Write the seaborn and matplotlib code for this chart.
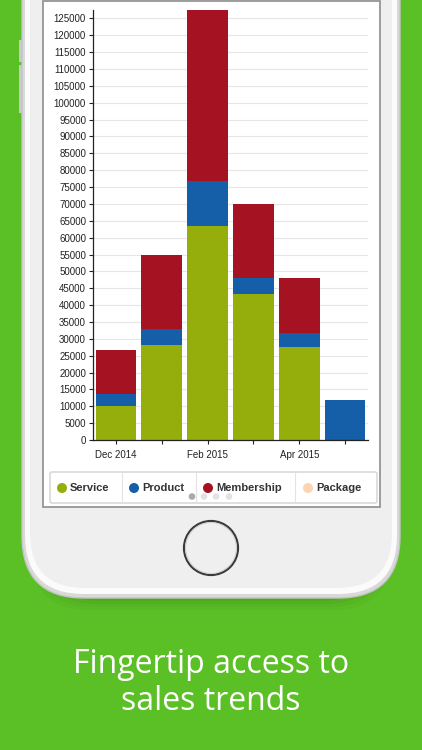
import numpy as np
import pandas as pd
import matplotlib
matplotlib.use("Agg")
import matplotlib.pyplot as plt
import seaborn as sns
from matplotlib.patches import FancyBboxPatch, Rectangle, Circle

# Monthly sales by category
months = ["Dec 2014", "Jan 2015", "Feb 2015", "Mar 2015", "Apr 2015", "May 2015"]
service = [10200, 28100, 63500, 43300, 27700, 0]
product = [3500, 4900, 13300, 4700, 3900, 12000]
membership = [13000, 22000, 50700, 22000, 16400, 0]
package = [0, 0, 0, 0, 0, 0]

series_names = ["Service", "Product", "Membership", "Package"]
series_colors = ["#95ae0c", "#145fa7", "#a51323", "#fbd4b1"]

y_ticks = list(range(0, 130000, 5000))
shown_months = ["Dec 2014", "Feb 2015", "Apr 2015"]

df = pd.DataFrame({"month": months, "Service": service, "Product": product,
                   "Membership": membership, "Package": package})
df["lvl1"] = df["Service"]
df["lvl2"] = df["lvl1"] + df["Product"]
df["lvl3"] = df["lvl2"] + df["Membership"]
df["lvl4"] = df["lvl3"] + df["Package"]

sns.set_theme(style="white")
plt.rcParams["font.family"] = ["Liberation Sans", "DejaVu Sans"]

W, H = 422, 750
fig = plt.figure(figsize=(W / 100, H / 100), dpi=100)
green = "#5bbf26"
fig.patch.set_facecolor(green)

# background axes in pixel coordinates (phone frame)
bg = fig.add_axes([0, 0, 1, 1], zorder=0)
bg.set_xlim(0, W)
bg.set_ylim(H, 0)
bg.axis("off")
bg.set_facecolor(green)

# shadow under the phone
for i, a in enumerate([0.05, 0.06, 0.08, 0.1]):
    bg.add_patch(FancyBboxPatch((30 + i * 4, -80), 362 - i * 8, 690 - i * 3,
                                boxstyle="round,pad=0,rounding_size=60",
                                fc="#2f6e12", ec="none", alpha=a))
# side buttons
bg.add_patch(Rectangle((19, 40), 4, 22, fc="#c9c9c9", ec="none"))
bg.add_patch(Rectangle((19, 65), 4, 48, fc="#c9c9c9", ec="none"))
# phone body
bg.add_patch(FancyBboxPatch((22, -80), 378, 678,
                            boxstyle="round,pad=0,rounding_size=62",
                            fc="#d9d9d9", ec="#c4c4c4", lw=1))
bg.add_patch(FancyBboxPatch((25, -80), 372, 674,
                            boxstyle="round,pad=0,rounding_size=59",
                            fc="#fbfbfb", ec="none"))
bg.add_patch(FancyBboxPatch((30, -80), 362, 668,
                            boxstyle="round,pad=0,rounding_size=55",
                            fc="#efefef", ec="none"))
# screen
bg.add_patch(Rectangle((43, 1), 337, 506, fc="white", ec="#8d8d8d", lw=1.2))
# home button
bg.add_patch(Circle((211, 548), 27, fc="#efefef", ec="#3a3a3a", lw=1.6))
bg.add_patch(Circle((211, 548), 25.5, fc="#efefef", ec="#cfcfcf", lw=0.8))

# legend strip
bg.add_patch(FancyBboxPatch((50, 472), 327, 31, boxstyle="round,pad=0,rounding_size=2",
                            fc="white", ec="#d2d2d2", lw=1))
for xd in [122, 196, 295]:
    bg.plot([xd, xd], [473, 502], color="#e3e3e3", lw=0.8)
leg_x = [62, 134, 208, 308]
for name, col, lx in zip(series_names, series_colors, leg_x):
    bg.add_patch(Circle((lx, 488), 5, fc=col, ec="none"))
    bg.text(lx + 8, 488, name, fontsize=8, fontweight="bold", color="#333333",
            va="center", ha="left")
for i, dx in enumerate([192, 204, 216, 229]):
    bg.add_patch(Circle((dx, 496.5), 3.3, fc="#aaaaaa" if i == 0 else "#e2e2e2", ec="none"))

# caption
bg.text(W / 2, 673, "Fingertip access to", color="white", fontsize=23,
        family="Open Sans", ha="center", va="baseline")
bg.text(W / 2, 710, "sales trends", color="white", fontsize=23,
        family="Open Sans", ha="center", va="baseline")

# chart axes
ax = fig.add_axes([93 / W, 1 - 440 / H, 275 / W, 430 / H], zorder=2)
ax.set_facecolor("white")
layers = [("lvl4", series_colors[3]), ("lvl3", series_colors[2]),
          ("lvl2", series_colors[1]), ("lvl1", series_colors[0])]
for col, c in layers:
    sns.barplot(data=df, x="month", y=col, color=c, saturation=1, width=0.89,
                ax=ax, linewidth=0)

ax.set_xlim(-0.5, len(months) - 0.5)
ax.set_ylim(0, 127500)
ax.set_yticks(y_ticks)
ax.set_yticklabels([str(v) for v in y_ticks], fontsize=7, color="#222222")
ax.set_xticks(range(len(months)))
ax.set_xticklabels([m if m in shown_months else "" for m in months],
                   fontsize=7, color="#222222")
ax.set_xlabel("")
ax.set_ylabel("")
ax.yaxis.grid(True, color="#e6e6e6", lw=0.8)
ax.xaxis.grid(False)
ax.set_axisbelow(True)
for s in ["top", "right"]:
    ax.spines[s].set_visible(False)
for s in ["left", "bottom"]:
    ax.spines[s].set_color("#222222")
    ax.spines[s].set_linewidth(0.9)
ax.tick_params(axis="both", which="major", length=3, width=0.8, color="#222222",
               left=True, bottom=True, pad=2)
ax.tick_params(axis="x", pad=4)

fig.savefig("out.png", dpi=100, facecolor=green)
